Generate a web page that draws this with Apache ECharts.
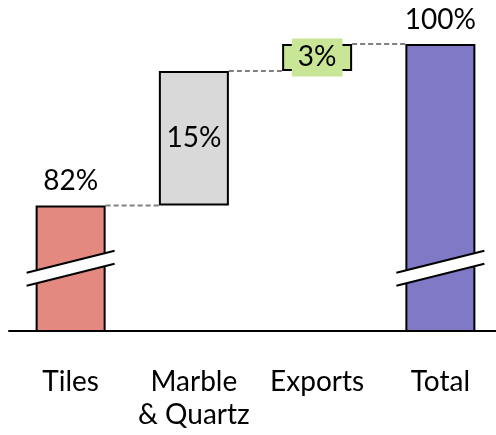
<!DOCTYPE html>
<html>
<head>
<meta charset="utf-8">
<script src="https://cdn.jsdelivr.net/npm/echarts@6/dist/echarts.min.js"></script>
<style>html,body{margin:0;padding:0;background:#fff}#c{width:496px;height:435px}</style>
</head>
<body>
<div id="c"></div>
<script>
// ---- data ----
const categories = ['Tiles', 'Marble\n& Quartz', 'Exports', 'Total'];
const values = [82, 15, 3, 100];
const valueLabels = ['82%', '15%', '3%', '100%'];
const isTotal = [true, false, false, true];
const colors = ['#E4897F', '#D9D9D9', '#C8E696', '#8079C6'];
const breakCategories = [0, 3];
const breakValue = 75;
const axisMin = 68;
const axisMax = 100;

// ---- derived ----
const bases = [];
const levels = [];
let run = 0;
values.forEach((v, i) => {
  if (isTotal[i]) { bases.push(0); run = v; }
  else { bases.push(run); run += v; }
  levels.push(run);
});
const connectors = levels.slice(0, -1).map((lv, i) => [i, lv]);
const breaks = breakCategories.map(i => [i, breakValue]);

const BAR_W = 70;
const FONT = 'Lato';

const chart = echarts.init(document.getElementById('c'), null, { renderer: 'canvas' });
chart.setOption({
  animation: false,
  grid: { left: 9, width: 493, top: 44, bottom: 104, containLabel: false, outerBoundsMode: 'none' },
  xAxis: {
    type: 'category',
    data: categories,
    axisLine: { lineStyle: { color: '#000', width: 2 } },
    axisTick: { show: false },
    axisLabel: { fontFamily: FONT, fontSize: 28, color: '#000', margin: 34, lineHeight: 33, interval: 0 }
  },
  yAxis: { type: 'value', min: axisMin, max: axisMax, show: false, splitLine: { show: false } },
  series: [
    {
      type: 'bar', stack: 'w', barWidth: BAR_W, clip: true, silent: true,
      itemStyle: { color: 'transparent' },
      data: bases
    },
    {
      type: 'bar', stack: 'w', barWidth: BAR_W, clip: true, z: 3,
      data: values.map((v, i) => ({
        value: v,
        itemStyle: { color: colors[i], borderColor: '#000', borderWidth: 2 },
        label: isTotal[i]
          ? { show: true, position: 'top', distance: 10, formatter: valueLabels[i], fontFamily: FONT, fontSize: 28, color: '#000' }
          : (v < 5
            ? { show: true, position: 'inside', formatter: valueLabels[i], fontFamily: FONT, fontSize: 28, color: '#000', backgroundColor: colors[i], padding: [5, 6], lineHeight: 28 }
            : { show: true, position: 'inside', formatter: valueLabels[i], fontFamily: FONT, fontSize: 28, color: '#000' })
      }))
    },
    {
      type: 'custom', z: 2, silent: true,
      data: connectors,
      renderItem: (params, api) => {
        const a = api.coord([api.value(0), api.value(1)]);
        const b = api.coord([api.value(0) + 1, api.value(1)]);
        return {
          type: 'line',
          shape: { x1: a[0] + BAR_W / 2, y1: a[1], x2: b[0] - BAR_W / 2, y2: b[1] },
          style: { stroke: '#808080', lineWidth: 2, lineDash: [5, 3] }
        };
      }
    },
    {
      type: 'custom', z: 10, silent: true,
      data: breaks,
      renderItem: (params, api) => {
        const c = api.coord([api.value(0), api.value(1)]);
        const hw = BAR_W / 2 + 9, dy = 11, g = 6.5;
        const cx = c[0], cy = c[1];
        return {
          type: 'group',
          children: [
            { type: 'polygon', shape: { points: [[cx - hw, cy + dy - g], [cx + hw, cy - dy - g], [cx + hw, cy - dy + g], [cx - hw, cy + dy + g]] }, style: { fill: '#fff' } },
            { type: 'line', shape: { x1: cx - hw, y1: cy + dy - g, x2: cx + hw, y2: cy - dy - g }, style: { stroke: '#000', lineWidth: 2 } },
            { type: 'line', shape: { x1: cx - hw, y1: cy + dy + g, x2: cx + hw, y2: cy - dy + g }, style: { stroke: '#000', lineWidth: 2 } }
          ]
        };
      }
    }
  ]
});
</script>
</body>
</html>
